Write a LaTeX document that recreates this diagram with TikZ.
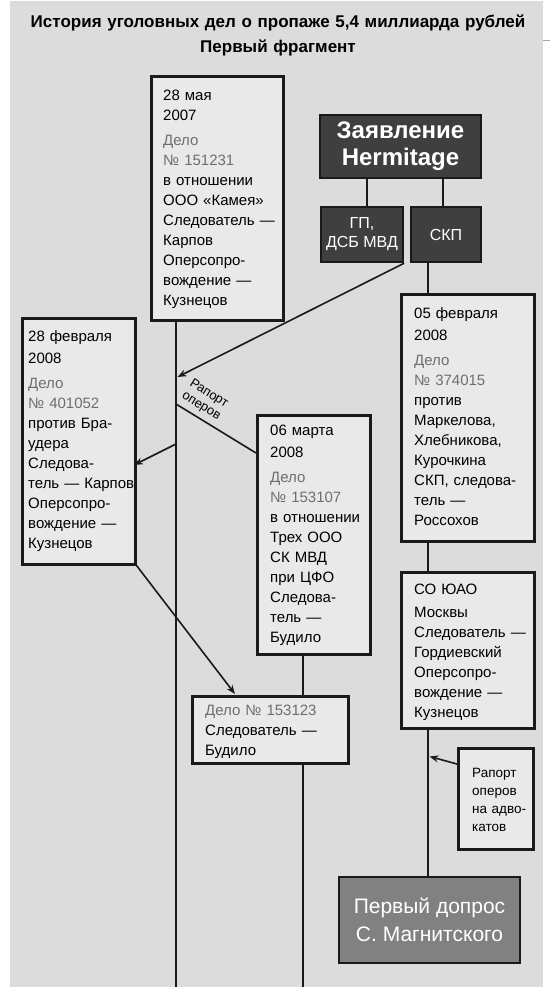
\documentclass[tikz,border=0pt]{standalone}
\usepackage{fontspec}
\setmainfont{Liberation Sans}
\usetikzlibrary{arrows.meta,calc}
\definecolor{bg}{HTML}{DCDCDC}
\definecolor{boxfill}{HTML}{E9E9E9}
\definecolor{darkfill}{HTML}{3F3F3F}
\definecolor{midfill}{HTML}{818181}
\definecolor{delo}{HTML}{6E6E6E}
\definecolor{edge}{HTML}{1A1A1A}
\newcommand{\dl}[1]{\textcolor{delo}{#1}}
\begin{document}
\begin{tikzpicture}[x=1pt,y=-1pt,
  lbox/.style={draw=edge,line width=2.6pt,fill=boxfill,inner sep=0pt,anchor=north west},
  dbox/.style={draw=edge,line width=2.4pt,fill=darkfill,inner sep=0pt,text=white,align=center},
  txt/.style={anchor=north west,inner sep=0pt,align=left,font=\fontsize{15}{20}\selectfont},
  conn/.style={draw=edge,line width=1.6pt},
  arr/.style={conn,-{Stealth[length=9pt,width=7pt]}}]
\useasboundingbox (0,0) rectangle (550,993);
\fill[bg] (10,1) rectangle (543,987);
\draw[gray!70,line width=0.8pt] (543,40) -- (550,40);

% title
\node[anchor=north,inner sep=0pt,align=center,text width=540pt,
  font=\bfseries\fontsize{17}{25}\selectfont] (title) at (278,10)
  {\strut История уголовных дел о пропаже 5,4 миллиарда рублей\\Первый фрагмент};

% light boxes
\node[lbox,minimum width=132pt,minimum height=244pt] (b1) at (150,75) {};
\node[txt,text width=125pt] (t1) at (163,86)
  {\strut 28 мая\\2007\\[5pt]\dl{Дело}\\\dl{№ 151231}\\в отношении\\ООО «Камея»\\Следователь —\\Карпов\\Оперсопро-\\вождение —\\Кузнецов};

\node[lbox,minimum width=113pt,minimum height=246pt] (b2) at (21,317) {};
\node[txt,text width=110pt] (t2) at (28,327)
  {\strut 28 февраля\\[2pt]2008\\[5pt]\dl{Дело}\\\dl{№ 401052}\\против Бра-\\удера\\Следова-\\тель — Карпов\\Оперсопро-\\вождение —\\Кузнецов};

\node[lbox,minimum width=113pt,minimum height=239pt] (b3) at (256,414) {};
\node[txt,text width=105pt] (t3) at (270,421)
  {\strut 06 марта\\[2pt]2008\\[5pt]\dl{Дело}\\\dl{№ 153107}\\в отношении\\Трех ООО\\СК МВД\\при ЦФО\\Следова-\\тель —\\Будило};

\node[lbox,minimum width=133pt,minimum height=247pt] (b4) at (400,293) {};
\node[txt,text width=125pt] (t4) at (414,304)
  {\strut 05 февраля\\[2pt]2008\\[5pt]\dl{Дело}\\\dl{№ 374015}\\против\\Маркелова,\\Хлебникова,\\Курочкина\\СКП, следова-\\тель —\\Россохов};

\node[lbox,minimum width=156pt,minimum height=67pt] (b5) at (191,695) {};
\node[txt,text width=140pt] (t5) at (205,701)
  {\strut\dl{Дело № 153123}\\Следователь —\\Будило};

\node[lbox,minimum width=133pt,minimum height=156pt] (b6) at (400,571) {};
\node[txt,text width=125pt] (t6) at (414,580)
  {\strut СО ЮАО\\[3pt]Москвы\\Следователь —\\Гордиевский\\Оперсопро-\\вождение —\\Кузнецов};

\node[lbox,minimum width=75pt,minimum height=101pt] (b7) at (457,747) {};
\node[txt,text width=70pt,font=\fontsize{13.5}{18.3}\selectfont] (t7) at (472,764)
  {\strut Рапорт\\оперов\\на адво-\\катов};

% dark boxes
\node[dbox,minimum width=161pt,minimum height=63pt,
  font=\bfseries\fontsize{24}{27}\selectfont] (herm) at (400.5,146.5) {Заявление\\Hermitage};
\node[dbox,minimum width=82pt,minimum height=55pt,
  font=\fontsize{16}{19}\selectfont] (gp) at (362,234.5) {ГП,\\ДСБ МВД};
\node[dbox,minimum width=70pt,minimum height=55pt,
  font=\fontsize{16}{19}\selectfont] (skp) at (446,234.5) {СКП};
\node[dbox,fill=midfill,minimum width=181pt,minimum height=86pt,
  font=\fontsize{21}{28}\selectfont] (dopros) at (429.5,920) {Первый допрос\\С. Магнитского};

% line coordinates
\coordinate (xA) at (176,0);
\coordinate (xB) at (303,0);
\coordinate (xC) at (428,0);
\coordinate (bottom) at (0,987);
\coordinate (tipA) at (177.5,377);
\coordinate (startR) at (176,404);
\coordinate (endR) at (256,453);
\coordinate (startF) at (176,444);
\coordinate (tipF) at (134,465);
\coordinate (tipD) at (235,694);
\coordinate (startK) at (457,764);
\coordinate (tipK) at (429.5,756.5);

% vertical connectors
\draw[conn] (b1.south -| xA) -- (bottom -| xA);
\draw[conn] (b3.south -| xB) -- (b5.north -| xB);
\draw[conn] (b5.south -| xB) -- (bottom -| xB);
\draw[conn] (herm.south -| gp.north) ++(5,0) coordinate (hg) (hg) -- (hg |- gp.north);
\draw[conn] (herm.south -| 443,0) coordinate (hs) -- (hs |- skp.north);
\draw[conn] (skp.south -| xC) -- (b4.north -| xC);
\draw[conn] (b4.south -| xC) -- (b6.north -| xC);
\draw[conn] (b6.south -| xC) -- (dopros.north -| xC);

% diagonal connectors
\draw[arr] (gp.south east) -- (tipA);
\draw[conn] (startR) -- (endR);
\draw[arr] (startF) -- (tipF);
\draw[arr] (b2.south east) -- (tipD);
\draw[arr] (startK) -- (tipK);

\node[rotate=-32,inner sep=0pt,align=left,font=\fontsize{13}{14.5}\selectfont] (rap) at (205,400)
  {Рапорт\\оперов};
\end{tikzpicture}
\end{document}
